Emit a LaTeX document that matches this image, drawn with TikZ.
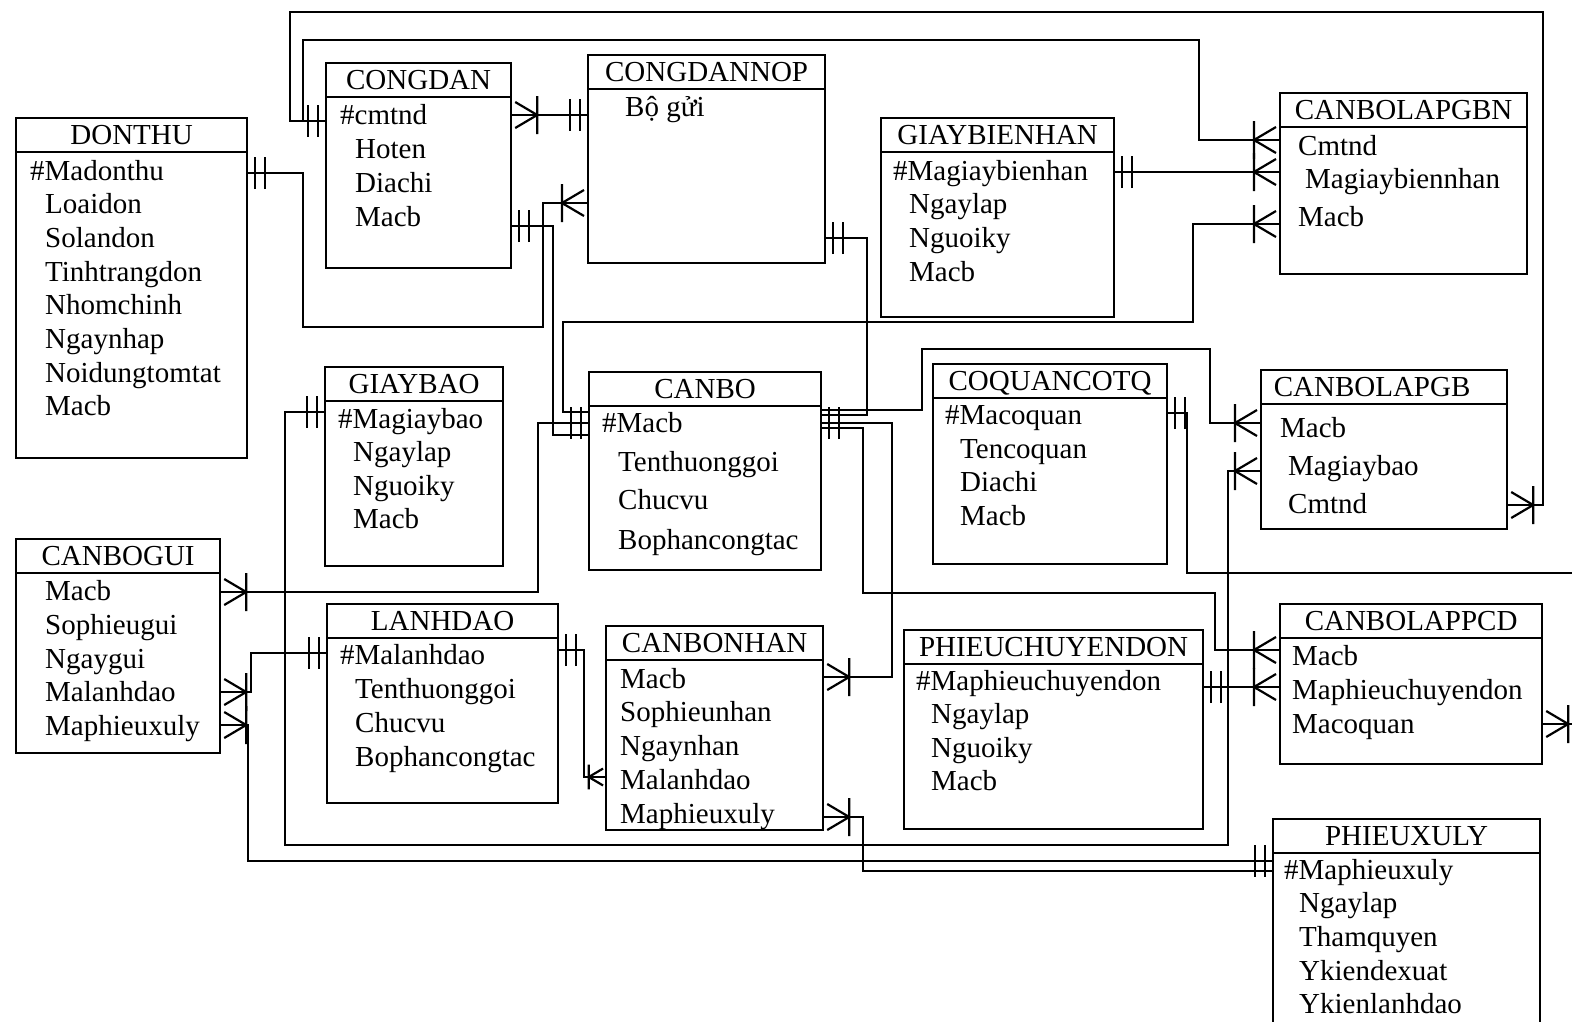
\documentclass[tikz,border=0pt]{standalone}
\usepackage{fontspec}
\setmainfont{Liberation Serif}

\begin{document}
\begin{tikzpicture}[x=1pt, y=-1pt, font=\fontsize{29pt}{34pt}\selectfont,
    entity/.style={draw, line width=2.2pt, rectangle, anchor=north west, inner sep=0pt},
    etitle/.style={anchor=base, inner sep=0pt},
    attr/.style={anchor=base west, inner sep=0pt},
    link/.style={line width=1.5pt},
    foot/.style={line width=2.2pt},
    one/.pic={\draw[foot] (-7,-16) -- (-7,16) (-17,-16) -- (-17,16);},
    many/.pic={\draw[foot] (-3,-13) -- (-25,0) -- (-3,13) (-25,-19) -- (-25,19);}]
\useasboundingbox (0,0) rectangle (1572,1021);

\foreach \n/\x/\y/\w/\h/\d/\t in {donthu/15/117/231/340/0/DONTHU,
    congdan/325/62/185/205/0/CONGDAN, congdannop/587/54/237/208/0/CONGDANNOP,
    giaybienhan/880/117/233/199/0/GIAYBIENHAN, canbolapgbn/1279/92/247/181/0/CANBOLAPGBN,
    giaybao/324/366/178/199/0/GIAYBAO, canbo/588/371/232/198/0/CANBO,
    coquan/932/363/234/200/0/COQUANCOTQ, canbolapgb/1260/369/246/159/-12/CANBOLAPGB,
    canbogui/15/538/204/214/0/CANBOGUI, lanhdao/326/603/231/199/0/LANHDAO,
    canbonhan/605/625/217/204/0/CANBONHAN, phieuchuyendon/903/629/299/199/0/PHIEUCHUYENDON,
    canbolappcd/1279/603/262/160/0/CANBOLAPPCD, phieuxuly/1272/818/267/240/0/PHIEUXULY}{
  \node[entity, minimum width=\w pt, minimum height=\h pt] (\n) at (\x,\y) {};
  \draw[line width=2.2pt] ([yshift=-35pt]\n.north west) -- ([yshift=-35pt]\n.north east);
  \node[etitle] (\n-t) at ([xshift=\d pt, yshift=-27pt]\n.north) {\t};
}

\foreach \n/\x/\y/\t in {dt1/30/180/\#Madonthu, dt2/45/213/Loaidon, dt3/45/247/Solandon,
    dt4/45/281/Tinhtrangdon, dt5/45/314/Nhomchinh, dt6/45/348/Ngaynhap,
    dt7/45/382/Noidungtomtat, dt8/45/415/Macb,
    cd1/340/124/\#cmtnd, cd2/355/158/Hoten, cd3/355/192/Diachi, cd4/355/226/Macb,
    cn1/625/116/Bộ gửi,
    gbn1/893/180/\#Magiaybienhan, gbn2/909/213/Ngaylap, gbn3/909/247/Nguoiky, gbn4/909/281/Macb,
    lbn1/1298/155/Cmtnd, lbn2/1305/188/Magiaybiennhan, lbn3/1298/226/Macb,
    gb1/338/428/\#Magiaybao, gb2/353/461/Ngaylap, gb3/353/495/Nguoiky, gb4/353/528/Macb,
    cb1/602/432/\#Macb, cb2/618/471/Tenthuonggoi, cb3/618/509/Chucvu, cb4/618/549/Bophancongtac,
    cq1/945/424/\#Macoquan, cq2/960/458/Tencoquan, cq3/960/491/Diachi, cq4/960/525/Macb,
    lgb1/1280/437/Macb, lgb2/1288/475/Magiaybao, lgb3/1288/513/Cmtnd,
    cg1/45/600/Macb, cg2/45/634/Sophieugui, cg3/45/668/Ngaygui, cg4/45/701/Malanhdao,
    cg5/45/735/Maphieuxuly,
    ld1/340/664/\#Malanhdao, ld2/355/698/Tenthuonggoi, ld3/355/732/Chucvu, ld4/355/766/Bophancongtac,
    cnh1/620/688/Macb, cnh2/620/721/Sophieunhan, cnh3/620/755/Ngaynhan, cnh4/620/789/Malanhdao,
    cnh5/620/823/Maphieuxuly,
    pcd1/916/690/\#Maphieuchuyendon, pcd2/931/723/Ngaylap, pcd3/931/757/Nguoiky, pcd4/931/790/Macb,
    lcd1/1292/665/Macb, lcd2/1292/699/Maphieuchuyendon, lcd3/1292/733/Macoquan,
    px1/1284/879/\#Maphieuxuly, px2/1299/912/Ngaylap, px3/1299/946/Thamquyen,
    px4/1299/980/Ykiendexuat, px5/1299/1013/Ykienlanhdao}
  \node[attr] (\n) at (\x,\y) {\t};

\coordinate (exit1) at (1580,573);
\coordinate (exit2) at (1580,724);

\draw[link] ([yshift=-59pt]congdan.north west) pic{one} -| (290,12) -- (1543,12)
  |- ([yshift=-136pt]canbolapgb.north east) pic[rotate=180]{many};
\draw[link] ([yshift=-59pt]congdan.north west) -| (303,40) -- (1199,40)
  |- ([yshift=-48pt]canbolapgbn.north west) pic{many};
\draw[link] ([yshift=-53pt]congdan.north east) pic[rotate=180]{many}
  -- ([yshift=-61pt]congdannop.north west) pic{one};
\draw[link] ([yshift=-56pt]donthu.north east) pic[rotate=180]{one} -| (303,327) -| (543,203)
  -- ([yshift=-149pt]congdannop.north west) pic{many};
\draw[link] ([yshift=-164pt]congdan.north east) pic[rotate=180]{one} -| (553,435)
  -- ([yshift=-64pt]canbo.north west);
\draw[link] ([yshift=-41pt]canbo.north west) -| (563,322) -| (1193,224)
  -- ([yshift=-132pt]canbolapgbn.north west) pic{many};
\draw[link] ([yshift=-52pt]canbo.north west) pic{one} -| (538,592)
  -- ([yshift=-54pt]canbogui.north east) pic[rotate=180]{many};
\draw[link] ([yshift=-184pt]congdannop.north east) pic[rotate=180]{one} -| (867,415)
  -- ([yshift=-44pt]canbo.north east);
\draw[link] ([yshift=-39pt]canbo.north east) -| (922,349) -| (1210,423)
  -- ([yshift=-54pt]canbolapgb.north west) pic{many};
\draw[link] ([yshift=-52pt]canbo.north east) pic[rotate=180]{one} -| (892,677)
  -- ([yshift=-52pt]canbonhan.north east) pic[rotate=180]{many};
\draw[link] ([yshift=-57pt]canbo.north east) -| (863,593) -| (1215,650)
  -- ([yshift=-47pt]canbolappcd.north west) pic{many};
\draw[link] ([yshift=-55pt]giaybienhan.north east) pic[rotate=180]{one}
  -- ([yshift=-80pt]canbolapgbn.north west) pic{many};
\draw[link] ([yshift=-46pt]giaybao.north west) pic{one} -| (285,845) -| (1228,471)
  -- ([yshift=-102pt]canbolapgb.north west) pic{many};
\draw[link] ([yshift=-50pt]coquan.north east) pic[rotate=180]{one} -| (1187,573) -- (exit1);
\draw[link] ([yshift=-121pt]canbolappcd.north east) pic[rotate=180]{many} -- (exit2);
\draw[link] ([yshift=-58pt]phieuchuyendon.north east) pic[rotate=180]{one}
  -- ([yshift=-84pt]canbolappcd.north west) pic{many};
\draw[link] ([yshift=-154pt]canbogui.north east) pic[rotate=180]{many} -| (251,653)
  -- ([yshift=-50pt]lanhdao.north west) pic{one};
\draw[link] ([yshift=-187pt]canbogui.north east) pic[rotate=180]{many} -| (248,861)
  -- ([yshift=-43pt]phieuxuly.north west) pic{one};
\draw[link] ([yshift=-47pt]lanhdao.north east) pic[rotate=180]{one} -| (584,777)
  -- ([yshift=-152pt]canbonhan.north west) pic[scale=0.65]{many};
\draw[link] ([yshift=-192pt]canbonhan.north east) pic[rotate=180]{many} -| (863,871)
  -- ([yshift=-53pt]phieuxuly.north west);
\end{tikzpicture}
\end{document}
